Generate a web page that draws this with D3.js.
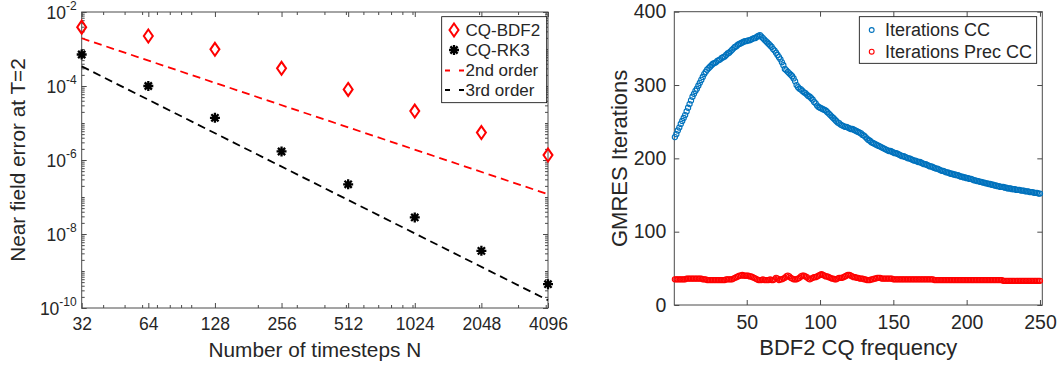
<!DOCTYPE html>
<html>
<head>
<meta charset="utf-8">
<script src="https://cdn.jsdelivr.net/npm/d3@7"></script>
<style>
  body { margin: 0; background: #fff; }
  text { font-family: "Liberation Sans", Arial, sans-serif; fill: #262626; }
</style>
</head>
<body>
<div id="chart"></div>
<script>
// ---- left panel: convergence data ----
const steps = [32, 64, 128, 256, 512, 1024, 2048, 4096];
const errBDF2 = [3.9e-3, 2.25e-3, 9.8e-4, 3.0e-4, 8.1e-5, 2.1e-5, 5.5e-6, 1.36e-6];
const errRK3 = [7.1e-4, 1.0e-4, 1.38e-5, 1.7e-6, 2.2e-7, 2.8e-8, 3.5e-9, 4.4e-10];
const refN = [32, 4096];
const order2 = [1.95e-3, 1.19e-7];
const order3 = [3.4e-4, 1.62e-10];
const yMajor = [1e-10, 1e-8, 1e-6, 1e-4, 1e-2];
const xMinor = [40, 50, 60, 70, 80, 90, 100, 200, 300, 400, 500, 600, 700, 800, 900, 1000, 2000, 3000, 4000];
const leftLegend = ["CQ-BDF2", "CQ-RK3", "2nd order", "3rd order"];

// ---- right panel: GMRES iterations per frequency ----
const iterCC = [
  229,233,238,242,247,251,255,259,264,269,274,279,284,288,292,295,299,303,307,311,
  315,318,321,323,325,327,329,330,331,333,334,335,337,338,339,341,343,344,346,348,
  350,352,353,355,356,357,358,359,360,360,361,361,362,363,364,364,366,367,368,366,
  364,362,360,358,356,354,352,349,347,344,341,338,335,331,327,322,320,318,316,314,
  312,309,305,300,297,295,294,292,290,289,287,285,284,282,280,277,275,272,270,269,
  268,267,266,265,263,261,259,257,255,253,251,249,248,246,245,244,243,243,242,241,
  240,240,239,238,237,236,235,234,232,231,229,227,225,224,222,221,220,219,218,217,
  216,215,214,213,212,211,210,210,209,208,207,207,206,205,204,203,203,202,201,200,
  200,199,198,197,197,196,195,195,194,193,192,192,191,190,189,189,188,187,186,186,
  185,184,183,183,182,181,181,180,179,179,178,178,177,177,176,175,175,174,174,173,
  173,172,172,171,170,170,169,169,168,168,167,167,166,166,165,165,164,164,163,163,
  162,162,161,161,161,160,160,159,159,159,158,158,158,157,157,157,156,156,156,155,
  155,155,154,154,154,153,153,153,152,152
];
const iterPrec = [
  35,35,35,35,35,35,35,35,36,36,36,36,36,36,36,36,36,36,36,35,
  35,35,34,34,34,34,34,34,34,34,34,34,34,34,34,35,35,35,35,35,
  36,37,38,39,40,40,41,40,40,40,40,39,39,38,37,36,35,34,34,34,
  35,34,34,34,34,35,34,34,35,37,36,34,35,35,36,37,39,40,39,37,
  36,35,35,35,36,37,39,40,40,39,38,36,35,36,37,38,38,39,40,41,
  42,41,40,39,39,38,37,36,36,35,35,36,37,37,37,38,39,40,41,41,
  40,39,38,38,37,37,36,36,36,35,35,34,34,34,35,35,36,36,37,37,
  37,36,36,36,36,36,36,36,36,35,35,35,35,35,35,35,35,35,35,35,
  35,35,35,35,35,35,35,35,35,35,35,35,35,35,35,35,35,34,34,34,
  34,34,34,34,34,34,34,34,34,34,34,34,34,34,34,34,34,34,34,34,
  34,34,34,34,34,34,34,34,34,34,34,34,34,34,34,34,34,34,34,34,
  34,34,34,34,33,33,33,33,33,33,33,33,33,33,33,33,33,33,33,33,
  33,33,33,33,33,33,33,33,33,33
];
const freq = d3.range(1, iterCC.length + 1);
const rightXTicks = [50, 100, 150, 200, 250];
const rightYTicks = [0, 100, 200, 300, 400];
const rightLegend = ["Iterations CC", "Iterations Prec CC"];

const AXIS = "#4a4a4a";
const svg = d3.select("#chart").append("svg").attr("width", 1063).attr("height", 367);

function styleAxis(g) {
  g.select(".domain").remove();
  g.selectAll(".tick line").attr("stroke", AXIS);
}

// ================= LEFT PANEL =================
const L = { x0: 81.7, x1: 548, y0: 12, y1: 308 };
const xL = d3.scaleLog().base(2).domain([32, 4096]).range([L.x0, L.x1]);
const yL = d3.scaleLog().domain([1e-10, 1e-2]).range([L.y1, L.y0]);
const left = svg.append("g");

// minor ticks
left.append("g").attr("transform", `translate(0,${L.y1})`)
  .call(d3.axisBottom(xL).tickValues(xMinor).tickSize(-3).tickFormat("")).call(styleAxis);
left.append("g").attr("transform", `translate(0,${L.y0})`)
  .call(d3.axisTop(xL).tickValues(xMinor).tickSize(-3).tickFormat("")).call(styleAxis);
left.append("g").attr("transform", `translate(${L.x0},0)`)
  .call(d3.axisLeft(yL).tickValues(yL.ticks()).tickSize(-3).tickFormat("")).call(styleAxis);
left.append("g").attr("transform", `translate(${L.x1},0)`)
  .call(d3.axisRight(yL).tickValues(yL.ticks()).tickSize(-3).tickFormat("")).call(styleAxis);

// major ticks
left.append("g").attr("transform", `translate(0,${L.y1})`)
  .call(d3.axisBottom(xL).tickValues(steps).tickSize(-5).tickSizeOuter(0).tickPadding(10).tickFormat(d3.format("d")))
  .call(styleAxis)
  .call(g => g.selectAll("text").attr("font-size", 17.5).attr("fill", "#262626"));
left.append("g").attr("transform", `translate(0,${L.y0})`)
  .call(d3.axisTop(xL).tickValues(steps).tickSize(-5).tickFormat("")).call(styleAxis);
left.append("g").attr("transform", `translate(${L.x1},0)`)
  .call(d3.axisRight(yL).tickValues(yMajor).tickSize(-5).tickFormat("")).call(styleAxis);
left.append("g").attr("transform", `translate(${L.x0},0)`)
  .call(d3.axisLeft(yL).tickValues(yMajor).tickSize(-5).tickFormat(""))
  .call(styleAxis)
  .call(g => g.selectAll(".tick").each(function (d) {
    const t = d3.select(this).append("text")
      .attr("x", -5).attr("dy", "0.35em").attr("text-anchor", "end")
      .attr("font-size", 17.5).attr("fill", "#262626");
    t.append("tspan").text("10");
    t.append("tspan").attr("dy", "-0.75em").attr("font-size", 12).text(Math.round(Math.log10(d)));
  }));

left.append("rect").attr("x", L.x0).attr("y", L.y0)
  .attr("width", L.x1 - L.x0).attr("height", L.y1 - L.y0)
  .attr("fill", "none").attr("stroke", AXIS).attr("stroke-width", 1);

// reference order lines
const refLine = d3.line().x(d => xL(d[0])).y(d => yL(d[1]));
left.append("path").datum(d3.zip(refN, order2)).attr("d", refLine)
  .attr("fill", "none").attr("stroke", "#ff0000").attr("stroke-width", 1.8).attr("stroke-dasharray", "8,5");
left.append("path").datum(d3.zip(refN, order3)).attr("d", refLine)
  .attr("fill", "none").attr("stroke", "#000").attr("stroke-width", 1.8).attr("stroke-dasharray", "8,5");

// markers
const diamond = "M0,-6.5L4.5,0L0,6.5L-4.5,0Z";
const star = "M-5,0H5M0,-5V5M-3.6,-3.6L3.6,3.6M-3.6,3.6L3.6,-3.6";
left.selectAll(".bdf2").data(d3.zip(steps, errBDF2)).enter().append("path")
  .attr("transform", d => `translate(${xL(d[0])},${yL(d[1])})`)
  .attr("d", diamond).attr("fill", "none").attr("stroke", "#ff0000").attr("stroke-width", 2);
left.selectAll(".rk3").data(d3.zip(steps, errRK3)).enter().append("path")
  .attr("transform", d => `translate(${xL(d[0])},${yL(d[1])})`)
  .attr("d", star).attr("fill", "none").attr("stroke", "#000").attr("stroke-width", 2.3);

// titles
left.append("text").attr("x", (L.x0 + L.x1) / 2).attr("y", 357).attr("text-anchor", "middle")
  .attr("font-size", 20.8).text("Number of timesteps N");
left.append("text").attr("transform", `translate(25,${(L.y0 + L.y1) / 2}) rotate(-90)`)
  .attr("text-anchor", "middle").attr("font-size", 20.8).text("Near field error at T=2");

// legend
const lg = left.append("g");
lg.append("rect").attr("x", 441.7).attr("y", 16.7).attr("width", 105).attr("height", 86)
  .attr("fill", "#fff").attr("stroke", "#000").attr("stroke-width", 0.8);
const rowsL = [30, 50, 70.5, 90];
lg.append("path").attr("transform", `translate(454,${rowsL[0]})`).attr("d", diamond)
  .attr("fill", "none").attr("stroke", "#ff0000").attr("stroke-width", 2);
lg.append("path").attr("transform", `translate(454,${rowsL[1]})`).attr("d", star)
  .attr("fill", "none").attr("stroke", "#000").attr("stroke-width", 2.3);
lg.append("line").attr("x1", 445).attr("x2", 464).attr("y1", rowsL[2]).attr("y2", rowsL[2])
  .attr("stroke", "#ff0000").attr("stroke-width", 1.8).attr("stroke-dasharray", "5,9");
lg.append("line").attr("x1", 445).attr("x2", 464).attr("y1", rowsL[3]).attr("y2", rowsL[3])
  .attr("stroke", "#000").attr("stroke-width", 1.8).attr("stroke-dasharray", "5,9");
lg.selectAll(".lab").data(leftLegend).enter().append("text")
  .attr("x", 465.5).attr("y", (d, i) => rowsL[i]).attr("dy", "0.35em")
  .attr("font-size", 17).attr("fill", "#000").text(d => d);

// ================= RIGHT PANEL =================
const R = { x0: 674.3, x1: 1042.3, y0: 11.7, y1: 305 };
const xR = d3.scaleLinear().domain([0.6, 251.6]).range([R.x0, R.x1]);
const yR = d3.scaleLinear().domain([0, 400]).range([R.y1, R.y0]);
const right = svg.append("g");

right.append("g").attr("transform", `translate(0,${R.y1})`)
  .call(d3.axisBottom(xR).tickValues(rightXTicks).tickSize(-5).tickSizeOuter(0).tickPadding(10))
  .call(styleAxis)
  .call(g => g.selectAll("text").attr("font-size", 19.5).attr("fill", "#262626"));
right.append("g").attr("transform", `translate(0,${R.y0})`)
  .call(d3.axisTop(xR).tickValues(rightXTicks).tickSize(-5).tickFormat("")).call(styleAxis);
right.append("g").attr("transform", `translate(${R.x0},0)`)
  .call(d3.axisLeft(yR).tickValues(rightYTicks).tickSize(-5).tickSizeOuter(0).tickPadding(8))
  .call(styleAxis)
  .call(g => g.selectAll("text").attr("font-size", 19.5).attr("fill", "#262626"));
right.append("g").attr("transform", `translate(${R.x1},0)`)
  .call(d3.axisRight(yR).tickValues(rightYTicks).tickSize(-5).tickFormat("")).call(styleAxis);

right.append("rect").attr("x", R.x0).attr("y", R.y0)
  .attr("width", R.x1 - R.x0).attr("height", R.y1 - R.y0)
  .attr("fill", "none").attr("stroke", AXIS).attr("stroke-width", 1);

right.selectAll(".cc").data(d3.zip(freq, iterCC)).enter().append("circle")
  .attr("cx", d => xR(d[0])).attr("cy", d => yR(d[1])).attr("r", 2.6)
  .attr("fill", "none").attr("stroke", "#0072bd").attr("stroke-width", 1.1);
right.selectAll(".pcc").data(d3.zip(freq, iterPrec)).enter().append("circle")
  .attr("cx", d => xR(d[0])).attr("cy", d => yR(d[1])).attr("r", 2.6)
  .attr("fill", "none").attr("stroke", "#ff0000").attr("stroke-width", 1.1);

right.append("text").attr("x", (R.x0 + R.x1) / 2).attr("y", 355).attr("text-anchor", "middle")
  .attr("font-size", 22).text("BDF2 CQ frequency");
right.append("text").attr("transform", `translate(627,${(R.y0 + R.y1) / 2}) rotate(-90)`)
  .attr("text-anchor", "middle").attr("font-size", 22).text("GMRES Iterations");

const rg = right.append("g");
rg.append("rect").attr("x", 859.3).attr("y", 16.7).attr("width", 177.4).attr("height", 46.6)
  .attr("fill", "#fff").attr("stroke", "#000").attr("stroke-width", 0.8);
const rowsR = [30, 51.7];
const rColors = ["#0072bd", "#ff0000"];
rg.selectAll(".mk").data(rightLegend).enter().append("circle")
  .attr("cx", 871.7).attr("cy", (d, i) => rowsR[i]).attr("r", 2.4)
  .attr("fill", "none").attr("stroke", (d, i) => rColors[i]).attr("stroke-width", 1.1);
rg.selectAll(".lab").data(rightLegend).enter().append("text")
  .attr("x", 885).attr("y", (d, i) => rowsR[i]).attr("dy", "0.35em")
  .attr("font-size", 18).attr("fill", "#000").text(d => d);
</script>
</body>
</html>
